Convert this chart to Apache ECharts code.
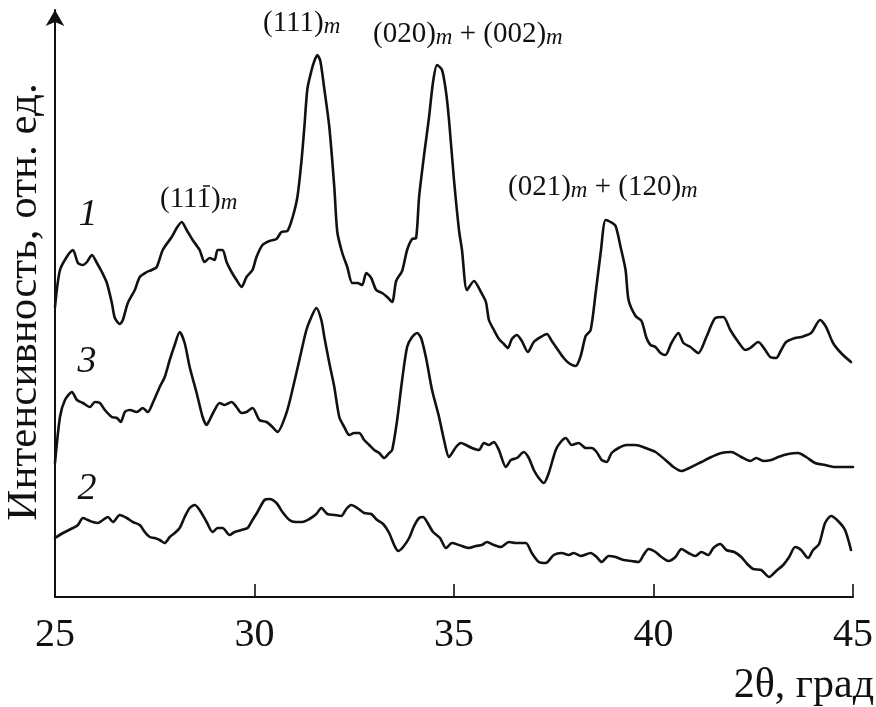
<!DOCTYPE html>
<html>
<head>
<meta charset="utf-8">
<script src="https://cdn.jsdelivr.net/npm/echarts@6/dist/echarts.min.js"></script>
<style>
html,body{margin:0;padding:0;background:#fff;}
#chart{width:876px;height:707px;}
</style>
</head>
<body>
<div id="chart"></div>
<script>
// X-ray diffraction patterns, 2θ (deg) vs intensity (rel. units, offset curves)
const theta1 = [25.0,25.125,25.325,25.45,25.575,25.7,25.8,25.925,26.05,26.175,26.3,26.425,26.5,26.625,26.7,26.825,27.0,27.125,27.3,27.425,27.55,27.7,27.925,28.05,28.175,28.3,28.45,28.625,28.75,28.875,29.0,29.075,29.2,29.3,29.425,29.55,29.675,29.8,29.95,30.05,30.2,30.375,30.55,30.675,30.825,30.95,31.075,31.175,31.25,31.325,31.425,31.5,31.575,31.65,31.75,31.875,32.0,32.075,32.2,32.325,32.45,32.575,32.7,32.8,32.925,33.05,33.2,33.325,33.45,33.55,33.7,33.825,33.95,34.05,34.125,34.25,34.375,34.475,34.575,34.7,34.8,34.875,35.0,35.125,35.2,35.325,35.5,35.675,35.8,35.875,36.0,36.125,36.25,36.35,36.45,36.575,36.7,36.85,37.0,37.175,37.325,37.45,37.625,37.75,37.875,38.05,38.175,38.3,38.425,38.55,38.675,38.8,38.925,39.05,39.175,39.3,39.375,39.55,39.7,39.825,39.925,40.05,40.175,40.3,40.45,40.625,40.75,40.925,41.125,41.325,41.55,41.75,41.925,42.125,42.3,42.425,42.625,42.8,42.925,43.075,43.2,43.325,43.55,43.7,43.95,44.175,44.325,44.5,44.7,44.95];
const int1 = [290,327,342,347,334,332,335,342,334,325,314,294,279,273,277,294,307,320,325,327,330,347,360,369,375,367,357,347,335,339,337,347,347,335,325,317,310,320,327,340,352,356,358,365,366,379,400,435,470,508,526,536,542,536,508,470,410,365,344,330,314,314,312,324,319,307,304,300,295,316,326,347,358,359,400,442,480,515,532,527,505,477,417,367,347,307,316,305,295,277,267,258,253,249,258,262,256,245,255,260,263,256,246,239,234,231,241,261,267,304,344,377,375,371,350,327,297,281,276,259,252,250,244,242,254,264,254,250,244,260,279,280,267,255,247,249,255,247,240,239,247,255,259,260,264,277,270,254,244,235];

const theta3 = [25.0,25.125,25.25,25.425,25.55,25.7,25.875,26.0,26.125,26.25,26.425,26.55,26.65,26.75,26.875,27.05,27.2,27.325,27.45,27.625,27.75,27.875,28.0,28.125,28.25,28.375,28.55,28.7,28.8,28.875,29.0,29.125,29.25,29.425,29.55,29.675,29.8,29.95,30.125,30.3,30.45,30.575,30.8,30.95,31.125,31.3,31.425,31.55,31.675,31.75,31.875,32.0,32.125,32.25,32.375,32.5,32.625,32.75,32.875,33.0,33.125,33.25,33.375,33.45,33.575,33.7,33.825,33.95,34.075,34.175,34.3,34.45,34.625,34.75,34.875,35.05,35.175,35.3,35.45,35.625,35.75,35.875,36.0,36.125,36.3,36.425,36.575,36.75,36.875,37.0,37.125,37.25,37.375,37.55,37.675,37.8,37.95,38.125,38.3,38.45,38.575,38.7,38.825,38.95,39.125,39.325,39.55,39.8,40.05,40.3,40.5,40.7,40.95,41.2,41.45,41.7,41.95,42.2,42.425,42.575,42.75,42.95,43.125,43.375,43.625,43.825,44.05,44.3,44.55,44.75,45.0];
const int3 = [134,180,197,205,197,194,190,195,194,187,180,179,175,185,187,185,189,185,194,210,220,237,252,265,254,230,204,180,172,177,187,194,192,195,190,184,185,189,177,175,170,165,184,207,237,267,280,289,277,260,234,210,180,170,162,164,164,157,152,147,144,139,144,147,177,217,250,260,264,259,239,207,180,157,140,150,154,152,149,147,154,152,155,147,130,137,139,145,139,127,119,114,124,147,155,159,152,154,149,149,145,137,135,144,149,152,152,149,145,137,130,126,130,135,140,144,145,140,136,139,136,137,140,143,144,140,134,132,130,130,130];

const theta2 = [25.0,25.2,25.45,25.575,25.7,25.825,25.95,26.075,26.2,26.325,26.45,26.625,26.8,26.95,27.125,27.25,27.375,27.5,27.625,27.75,27.875,28.0,28.125,28.25,28.375,28.5,28.625,28.8,28.95,29.075,29.2,29.375,29.5,29.675,29.825,29.95,30.075,30.25,30.375,30.55,30.7,30.875,31.025,31.2,31.375,31.55,31.675,31.825,32.0,32.175,32.3,32.425,32.575,32.75,32.925,33.075,33.225,33.375,33.5,33.6,33.725,33.875,34.0,34.125,34.225,34.325,34.475,34.65,34.8,34.95,35.125,35.375,35.55,35.7,35.825,36.0,36.175,36.375,36.55,36.8,36.95,37.125,37.3,37.5,37.7,37.875,38.0,38.175,38.425,38.575,38.7,38.875,39.05,39.25,39.45,39.625,39.75,39.875,40.05,40.2,40.375,40.55,40.7,40.875,41.05,41.2,41.375,41.5,41.675,41.825,42.025,42.2,42.35,42.5,42.7,42.9,43.075,43.25,43.4,43.55,43.7,43.875,44.0,44.15,44.3,44.45,44.625,44.8,44.95];
const int2 = [59,64,69,72,79,77,75,74,77,80,75,82,79,75,72,65,60,59,57,54,60,64,69,80,89,92,87,75,65,69,69,62,65,67,69,77,85,97,98,94,85,77,75,75,78,83,89,83,82,81,88,92,89,84,83,77,73,64,52,46,50,59,71,79,80,75,65,59,49,54,52,49,51,52,55,52,50,55,54,54,44,35,34,42,44,42,44,41,44,40,35,41,40,37,36,35,42,48,45,40,36,40,48,44,41,45,42,49,53,47,45,40,33,28,27,20,26,32,40,50,47,39,47,53,74,81,76,67,47];

const xTicks = [25, 30, 35, 40, 45];
const yLabel = 'Интенсивность, отн. ед.';
const xLabel = '2θ, град';
const curveNames = ['1', '3', '2'];
const peakLabels = ['(111){m|m}', '(020){m|m} + (002){m|m}', '(111){m|m}', '(021){m|m} + (120){m|m}'];

function pairs(t, v) { return t.map((x, i) => [x, v[i]]); }

const FONT = '"Liberation Serif", "Times New Roman", serif';
const lineStyle = { color: '#111', width: 2.6, join: 'round', cap: 'round' };

function serie(name, t, v) {
  return { name, type: 'line', data: pairs(t, v), showSymbol: false, symbol: 'none',
    lineStyle, smooth: 0.25, silent: true, animation: false };
}

const rich = { m: { fontSize: 23, fontStyle: 'italic', fontFamily: FONT, fill: '#111', lineHeight: 14, verticalAlign: 'bottom' } };
function peakText(text, x, y) {
  return { type: 'text', x, y, silent: true,
    style: { text, fontSize: 29, fontFamily: FONT, fill: '#111', lineHeight: 30, align: 'left', verticalAlign: 'middle', rich } };
}
function numText(text, x, y) {
  return { type: 'text', x, y, silent: true,
    style: { text, fontSize: 38, fontStyle: 'italic', fontFamily: FONT, fill: '#111', align: 'center', verticalAlign: 'middle' } };
}

const chart = echarts.init(document.getElementById('chart'), null, { renderer: 'canvas' });
chart.setOption({
  animation: false,
  backgroundColor: '#fff',
  grid: { left: 55, right: 21, top: 10, bottom: 110, containLabel: false },
  xAxis: {
    type: 'value', min: xTicks[0], max: xTicks[xTicks.length - 1], interval: 5,
    axisLine: { lineStyle: { color: '#111', width: 2 } },
    axisTick: { inside: true, length: 13, lineStyle: { color: '#111', width: 1.6 } },
    axisLabel: { fontSize: 40, fontFamily: FONT, color: '#111', margin: 18 },
    splitLine: { show: false }
  },
  yAxis: {
    type: 'value', min: 0, max: 587,
    axisLine: { show: true, symbol: ['none', 'arrow'], symbolSize: [14, 16], lineStyle: { color: '#111', width: 2 } },
    axisTick: { show: false }, axisLabel: { show: false }, splitLine: { show: false }
  },
  series: [serie('1', theta1, int1), serie('3', theta3, int3), serie('2', theta2, int2)],
  graphic: [
    { type: 'text', x: 25, y: 302, rotation: Math.PI / 2, silent: true,
      style: { text: yLabel, fontSize: 43, fontFamily: FONT, fill: '#111', align: 'center', verticalAlign: 'middle' } },
    { type: 'text', x: 874, y: 686, silent: true,
      style: { text: xLabel, fontSize: 42, fontFamily: FONT, fill: '#111', align: 'right', verticalAlign: 'middle' } },
    numText(curveNames[0], 88, 215),
    numText(curveNames[1], 87, 362),
    numText(curveNames[2], 87, 489),
    peakText(peakLabels[0], 263, 23),
    peakText(peakLabels[1], 373, 34),
    peakText(peakLabels[2], 160, 199),
    peakText(peakLabels[3], 508, 187),
    // overbar of the Miller index (1 1 -1)
    { type: 'line', silent: true, shape: { x1: 203, y1: 186, x2: 210, y2: 186 }, style: { stroke: '#111', lineWidth: 1.5 } }
  ]
});
</script>
</body>
</html>
